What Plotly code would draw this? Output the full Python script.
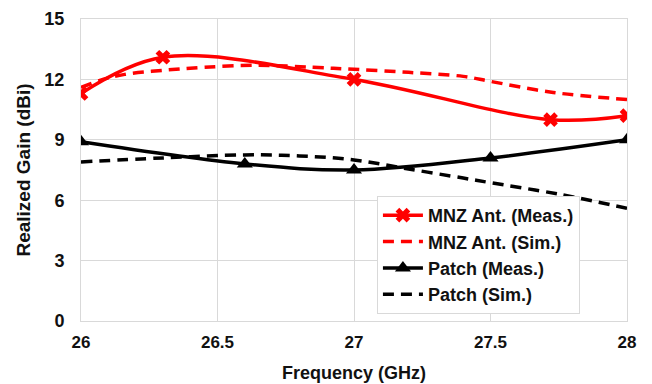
import plotly.graph_objects as go

# Measured MNZ antenna
mnz_meas_f = [26.0, 26.3, 27.0, 27.72, 28.0]
mnz_meas_g = [11.3, 13.1, 12.0, 10.0, 10.2]

# Simulated MNZ antenna
mnz_sim_f = [26.0, 26.08, 26.16, 26.3, 26.45, 26.65, 26.85, 27.0, 27.2, 27.4, 27.5, 27.73, 28.0]
mnz_sim_g = [11.6, 12.0, 12.25, 12.45, 12.6, 12.7, 12.6, 12.5, 12.35, 12.15, 11.9, 11.35, 11.0]

# Measured patch
patch_meas_f = [26.0, 26.6, 27.0, 27.5, 28.0]
patch_meas_g = [8.9, 7.8, 7.5, 8.1, 9.0]

# Simulated patch
patch_sim_f = [26.0, 26.3, 26.6, 26.8, 27.0, 27.2, 27.4, 27.5, 27.75, 28.0]
patch_sim_g = [7.9, 8.1, 8.25, 8.2, 8.0, 7.55, 7.1, 6.87, 6.3, 5.6]

x_ticks = [26, 26.5, 27, 27.5, 28]
y_ticks = [0, 3, 6, 9, 12, 15]

RED = "#ff0000"
BLACK = "#000000"
DASH = "11px,7px"

fig = go.Figure()
fig.add_trace(go.Scatter(
    x=mnz_meas_f, y=mnz_meas_g, name="MNZ Ant. (Meas.)",
    mode="lines+markers", line=dict(color=RED, width=3.5, shape="spline", smoothing=1.0),
    marker=dict(symbol="x", size=13, color=RED, line=dict(width=0))))
fig.add_trace(go.Scatter(
    x=mnz_sim_f, y=mnz_sim_g, name="MNZ Ant. (Sim.)",
    mode="lines", line=dict(color=RED, width=3.5, dash=DASH, shape="spline", smoothing=1.0)))
fig.add_trace(go.Scatter(
    x=patch_meas_f, y=patch_meas_g, name="Patch (Meas.)",
    mode="lines+markers", line=dict(color=BLACK, width=3.5, shape="spline", smoothing=1.0),
    marker=dict(symbol="triangle-up", size=14, color=BLACK)))
fig.add_trace(go.Scatter(
    x=patch_sim_f, y=patch_sim_g, name="Patch (Sim.)",
    mode="lines", line=dict(color=BLACK, width=3.5, dash=DASH, shape="spline", smoothing=1.0)))

font_family = "Liberation Sans, Arial, sans-serif"
# the page body adds an 8px offset, so the figure is sized to fit the 652x384 window
fig.update_layout(
    width=644, height=376,
    margin=dict(l=73, r=25, t=11, b=63),
    paper_bgcolor="white", plot_bgcolor="white",
    font=dict(family=font_family, size=17, color="#111111"),
    showlegend=True,
    legend=dict(
        x=0.542, y=0.414, xanchor="left", yanchor="top",
        bgcolor="white", bordercolor="#d9d9d9", borderwidth=1,
        font=dict(family=font_family, size=18, color="#111111", weight="bold"),
        tracegroupgap=0, itemwidth=40,
    ),
    xaxis=dict(
        range=[26, 28], tickvals=x_ticks, ticktext=[str(v) for v in x_ticks],
        showgrid=True, gridcolor="#d9d9d9", gridwidth=1,
        showline=True, linecolor="#d9d9d9", linewidth=1, mirror=True,
        ticks="outside", ticklen=6, tickcolor="rgba(0,0,0,0)",
        tickfont=dict(family=font_family, size=17, weight="bold"),
        title=dict(text="Frequency (GHz)", standoff=14,
                   font=dict(family=font_family, size=18, weight="bold")),
        zeroline=False, automargin=False,
    ),
    yaxis=dict(
        range=[0, 15], tickvals=y_ticks,
        showgrid=True, gridcolor="#d9d9d9", gridwidth=1,
        showline=True, linecolor="#d9d9d9", linewidth=1, mirror=True,
        ticks="outside", ticklen=12, tickcolor="rgba(0,0,0,0)",
        tickfont=dict(family=font_family, size=18, weight="bold"),
        title=dict(text="Realized Gain (dBi)", standoff=8,
                   font=dict(family=font_family, size=19, weight="bold")),
        zeroline=False, automargin=False,
    ),
)

fig.write_html("out.html")
